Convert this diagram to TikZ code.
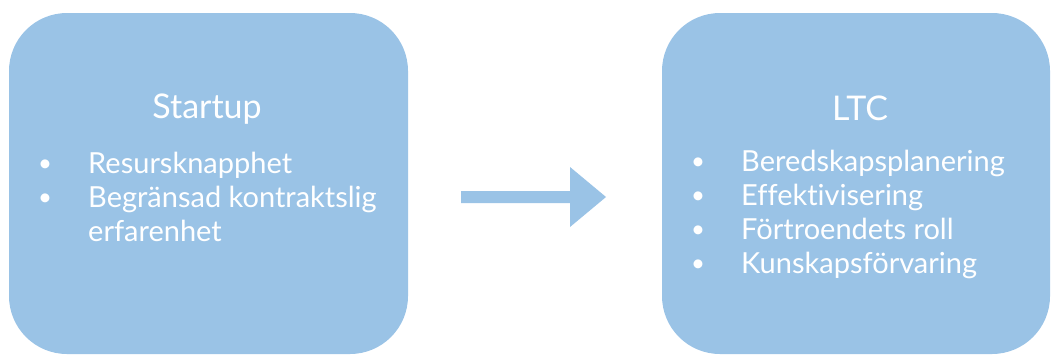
\documentclass[tikz,border=0pt]{standalone}
\usepackage{fontspec}
\setmainfont{Lato}[Ligatures={NoCommon}]
\definecolor{boxblue}{RGB}{154,195,230}
\tikzset{
  box/.style={fill=boxblue, draw=none, rounded corners=58pt, inner sep=0pt},
  title/.style={text=white, font=\fontsize{34}{40}\selectfont, anchor=base, inner sep=0pt},
  item/.style={text=white, font=\fontsize{29}{34}\selectfont, anchor=base west, inner sep=0pt},
  bul/.style={text=white, font=\fontsize{24}{30}\selectfont, anchor=base, inner sep=0pt},
}
\begin{document}
\begin{tikzpicture}[x=1pt,y=-1pt]
\useasboundingbox (0,0) rectangle (1051,354);
\node[box, minimum width=399pt, minimum height=341pt] (left) at (208.5,183.5) {};
\node[box, minimum width=388pt, minimum height=341pt] (right) at (856,183.5) {};
\node[title] (t1) at (207,118) {Startup};
\node[bul] (b11) at (45,171) {\textbullet};
\node[item] (i11) at (88,173) {Resursknapphet};
\node[bul] (b12) at (45,205) {\textbullet};
\node[item] (i12) at (88,207) {Begränsad kontraktslig};
\node[item] (i13) at (88,241) {erfarenhet};
\node[title] (t2) at (860,120) {LTC};
\node[bul] (b21) at (698,169) {\textbullet};
\node[item] (i21) at (741,171) {Beredskapsplanering};
\node[bul] (b22) at (698,203) {\textbullet};
\node[item] (i22) at (741,205) {Effektivisering};
\node[bul] (b23) at (698,237) {\textbullet};
\node[item] (i23) at (741,239) {Förtroendets roll};
\node[bul] (b24) at (698,271) {\textbullet};
\node[item] (i24) at (741,273) {Kunskapsförvaring};
\coordinate (as) at (461,197);
\coordinate (ae) at (606,197);
\fill[boxblue] (as) ++(0,-6) -- (570,191) -- (570,167) -- (ae) -- (570,227) -- (570,203) -- (461,203) -- cycle;
\end{tikzpicture}
\end{document}
